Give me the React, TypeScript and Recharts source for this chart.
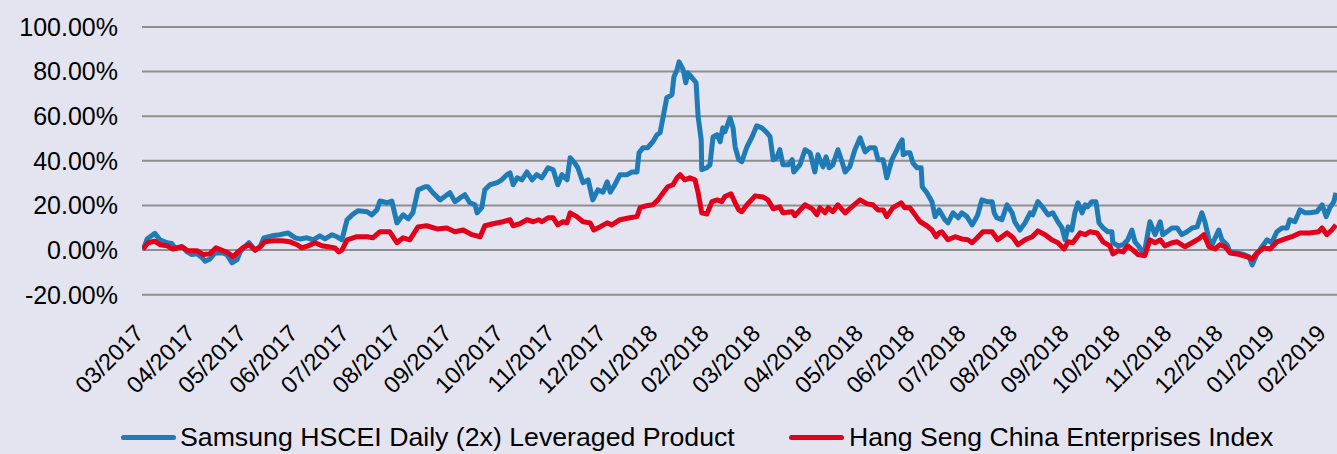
import React from 'react';
import { LineChart, Line, XAxis, YAxis, CartesianGrid } from 'recharts';

// month labels on the x axis; x values below are months since 03/2017
const monthLabels = [
  '03/2017', '04/2017', '05/2017', '06/2017', '07/2017', '08/2017', '09/2017', '10/2017',
  '11/2017', '12/2017', '01/2018', '02/2018', '03/2018', '04/2018', '05/2018', '06/2018',
  '07/2018', '08/2018', '09/2018', '10/2018', '11/2018', '12/2018', '01/2019', '02/2019',
];

const yTicks = [-20, 0, 20, 40, 60, 80, 100];

// Samsung HSCEI Daily (2x) Leveraged Product, cumulative return in %
const leveragedMonths = [
  0.02, 0.1, 0.25, 0.35, 0.49, 0.58, 0.64, 0.78, 0.88, 0.97, 1.07, 1.17, 1.23, 1.32, 1.42, 1.56,
  1.65, 1.75, 1.85, 1.91, 2.0, 2.08, 2.2, 2.3, 2.37, 2.53, 2.68, 2.84, 2.98, 3.07, 3.21, 3.33,
  3.46, 3.56, 3.7, 3.79, 3.89, 3.99, 4.09, 4.2, 4.38, 4.47, 4.57, 4.63, 4.77, 4.86, 4.96, 5.08,
  5.18, 5.27, 5.37, 5.51, 5.56, 5.66, 5.8, 5.89, 5.99, 6.09, 6.19, 6.28, 6.38, 6.48, 6.52, 6.61,
  6.67, 6.77, 6.91, 7.0, 7.1, 7.16, 7.22, 7.3, 7.39, 7.49, 7.59, 7.68, 7.78, 7.9, 8.0, 8.09,
  8.17, 8.27, 8.33, 8.42, 8.48, 8.58, 8.68, 8.77, 8.87, 8.97, 9.05, 9.11, 9.2, 9.3, 9.44, 9.53,
  9.63, 9.67, 9.75, 9.84, 9.94, 10.02, 10.08, 10.14, 10.21, 10.31, 10.35, 10.41, 10.45, 10.53, 10.58, 10.62,
  10.7, 10.78, 10.82, 10.88, 10.89, 10.99, 11.05, 11.11, 11.19, 11.25, 11.3, 11.34, 11.44, 11.5, 11.54, 11.61,
  11.67, 11.77, 11.87, 11.96, 12.06, 12.16, 12.22, 12.28, 12.35, 12.41, 12.47, 12.57, 12.65, 12.68, 12.8, 12.9,
  13.0, 13.09, 13.15, 13.25, 13.31, 13.37, 13.44, 13.54, 13.62, 13.68, 13.77, 13.87, 13.97, 14.07, 14.16, 14.26,
  14.32, 14.42, 14.49, 14.59, 14.69, 14.73, 14.79, 14.81, 14.88, 14.94, 15.0, 15.08, 15.16, 15.18, 15.27, 15.37,
  15.43, 15.51, 15.62, 15.68, 15.78, 15.88, 15.95, 16.05, 16.15, 16.21, 16.26, 16.34, 16.44, 16.54, 16.58, 16.63,
  16.73, 16.83, 16.93, 16.98, 17.08, 17.18, 17.28, 17.33, 17.43, 17.53, 17.63, 17.72, 17.82, 17.9, 17.96, 18.02,
  18.09, 18.15, 18.21, 18.29, 18.35, 18.4, 18.48, 18.56, 18.62, 18.7, 18.79, 18.87, 18.89, 18.99, 19.09, 19.18,
  19.26, 19.32, 19.4, 19.46, 19.51, 19.61, 19.71, 19.81, 19.86, 19.94, 20.04, 20.14, 20.23, 20.33, 20.43, 20.53,
  20.62, 20.68, 20.76, 20.82, 20.88, 20.95, 21.01, 21.11, 21.17, 21.3, 21.44, 21.54, 21.6, 21.69, 21.79, 21.89,
  21.98, 22.08, 22.18, 22.28, 22.33, 22.43, 22.53, 22.63, 22.72, 22.86, 22.96, 23.04, 23.11, 23.19, 23.23,
];
const leveragedValues = [
  0, 5, 7.5, 4.6, 3.3, 3, 1, 1.5, -0.8, -2, -1.7, -3.5, -5, -4, -1.3, -1.2,
  -2, -5.7, -4.3, -0.8, 1.5, 3.3, 0, 1.5, 5.5, 6.4, 6.9, 7.7, 5.5, 5, 5.5, 4.6,
  6.4, 5, 6.9, 6, 4.6, 13.6, 15.8, 17.6, 17.2, 15.8, 18, 22, 21.2, 22, 12.2, 15.8,
  14, 16.7, 27, 28.4, 28.4, 25.7, 22.5, 24, 25.7, 21.7, 23.4, 24.8, 21.2, 20.3, 16.7, 19,
  27, 29.3, 30.2, 31.5, 33.8, 34.6, 29.3, 32.4, 31.5, 35, 31.5, 33.8, 32.4, 36.9, 36, 29.3,
  33.8, 31.5, 41.4, 39, 36.9, 30.2, 31.5, 22.5, 27, 26, 30.6, 26, 29.3, 33.8, 33.8, 35,
  35, 43.6, 45.9, 45.9, 48.6, 51.7, 52.6, 59.8, 68.3, 69.6, 77.7, 80.8, 84.4, 80.8, 75, 79.5,
  77.3, 75, 59.8, 49.4, 36, 36.9, 38.2, 50.7, 51.7, 48.6, 54.8, 53, 59.3, 54.8, 46.3, 40.5,
  39.6, 46.3, 50.8, 55.7, 54.8, 52.6, 50.8, 40.5, 41.4, 45, 38.2, 38.2, 40.5, 35, 38.2, 45,
  43.6, 35, 42.7, 37.3, 41.8, 36.9, 38.2, 45, 39.6, 35, 37.3, 45, 50.3, 44, 45.9, 45.9,
  40.5, 40.5, 32.4, 40.5, 45, 47.2, 49.4, 42.7, 43.6, 43.6, 39, 36.9, 36.9, 28.4, 25.7, 21.7,
  15, 18, 13.6, 12.2, 16.7, 14.5, 16.7, 15, 11.3, 13.6, 15.8, 22.5, 21.7, 21.7, 16.7, 14.5,
  13.6, 20.3, 16.7, 12.7, 9, 12.2, 16.7, 15.8, 21.7, 19, 15.8, 16.7, 12.7, 9.9, 4.6, 10.4,
  9, 16.7, 21.2, 16.7, 20.3, 19.4, 21.7, 21.7, 12.2, 9.9, 8.2, 8.2, 3.3, 1.9, 2.4, 4.6,
  9, 3.7, 1.5, -0.8, 0, 12.7, 6.9, 12.7, 6.9, 8.2, 9.9, 9.9, 6.9, 8.2, 9.9, 10.4,
  16.7, 12.7, 4.6, 2.4, 5.5, 9, 4.6, 2.4, -0.8, -1.3, -2, -3, -6.6, -2, 1.5, 4.6,
  3.3, 8.2, 9.9, 9.9, 13.6, 12.7, 18, 16.7, 16.7, 17.2, 20.3, 15, 19, 21.7, 25.7,
];

// Hang Seng China Enterprises Index, cumulative return in %
const indexMonths = [
  0.02, 0.12, 0.25, 0.35, 0.49, 0.6, 0.78, 0.89, 1.07, 1.19, 1.32, 1.44, 1.58, 1.67, 1.77, 1.87,
  1.96, 2.08, 2.2, 2.3, 2.39, 2.55, 2.72, 2.88, 3.02, 3.11, 3.23, 3.37, 3.5, 3.62, 3.75, 3.83,
  3.89, 3.99, 4.18, 4.38, 4.49, 4.63, 4.82, 4.96, 5.08, 5.21, 5.37, 5.54, 5.74, 5.93, 6.09, 6.25,
  6.42, 6.58, 6.67, 6.83, 7.02, 7.16, 7.22, 7.35, 7.49, 7.61, 7.72, 7.78, 7.9, 8.0, 8.09, 8.19,
  8.27, 8.33, 8.46, 8.58, 8.72, 8.79, 8.91, 9.05, 9.14, 9.3, 9.49, 9.63, 9.69, 9.82, 9.94, 10.04,
  10.14, 10.23, 10.33, 10.41, 10.47, 10.56, 10.66, 10.76, 10.82, 10.89, 10.99, 11.09, 11.19, 11.28, 11.34, 11.46,
  11.54, 11.61, 11.67, 11.77, 11.93, 12.08, 12.18, 12.28, 12.41, 12.47, 12.65, 12.7, 12.9, 13.04, 13.13, 13.19,
  13.29, 13.35, 13.44, 13.54, 13.68, 13.81, 13.97, 14.11, 14.22, 14.32, 14.42, 14.49, 14.61, 14.77, 14.84, 14.94,
  15.04, 15.14, 15.27, 15.37, 15.45, 15.51, 15.56, 15.68, 15.82, 15.95, 16.07, 16.15, 16.25, 16.36, 16.54, 16.65,
  16.83, 16.95, 17.04, 17.18, 17.32, 17.43, 17.57, 17.7, 17.82, 17.94, 18.02, 18.11, 18.25, 18.35, 18.44, 18.58,
  18.7, 18.83, 18.89, 18.99, 19.09, 19.18, 19.28, 19.38, 19.51, 19.61, 19.71, 19.81, 19.9, 20.04, 20.14, 20.29,
  20.43, 20.56, 20.66, 20.76, 20.88, 20.97, 21.07, 21.17, 21.36, 21.5, 21.6, 21.69, 21.83, 21.95, 22.08, 22.24,
  22.37, 22.53, 22.72, 22.89, 22.96, 23.05, 23.15, 23.23,
];
const indexValues = [
  0.5, 3.3, 4, 2.4, 1.9, 0.5, 1.5, -0.3, -0.3, -2, -1.7, 1, -0.3, -1.2, -3, -0.8,
  1, 2.4, 0, 1.5, 3.7, 4.2, 4.2, 3.7, 2.4, 1, 1.9, 3.3, 1.9, 1.5, 1, -0.8,
  0, 4.6, 6, 6, 5.5, 8.2, 8.2, 3.3, 5.5, 4.6, 10.4, 10.9, 9.5, 9.9, 8.2, 9,
  6.9, 6, 10.9, 11.8, 12.7, 13.6, 10.9, 11.8, 13.6, 12.7, 13.6, 12.7, 14.5, 14.5, 11.3, 12.7,
  12.2, 16.7, 15, 12.7, 12.2, 9, 10.4, 12.2, 11.3, 13.6, 14.5, 15, 19, 19.9, 20.3, 22.5,
  25.7, 28.4, 29.3, 32.4, 33.8, 31.5, 32.4, 31.5, 25.7, 16.7, 16.2, 21.7, 22.5, 21.7, 24, 25.2,
  21.2, 18, 17.2, 20.3, 24.3, 23.8, 22.5, 18.5, 19.4, 16.7, 17.2, 15.4, 20.3, 18.5, 15.8, 19,
  16.7, 19, 17.2, 20.3, 16.7, 19.4, 22.5, 20.7, 20.3, 18, 18, 15, 19, 21.2, 19, 19,
  15.8, 12.7, 10.9, 9, 6, 7.7, 8.2, 4.6, 6, 5, 4.6, 3.3, 5.5, 8.2, 8.2, 4.6,
  7.7, 5.5, 2.4, 4.6, 6, 8.6, 6.9, 4.6, 3.3, 0.5, 3.7, 3.3, 7.7, 6.9, 8.2, 7.7,
  3.7, 1.9, -1.7, -0.3, -0.8, 1.9, 0, -2, -2.5, 4.6, 3.3, 4.6, 1.9, 3.3, 3.7, 1.5,
  3.3, 5, 6.9, 1.5, 0.5, 2.4, 1.5, -1.3, -2, -3, -4, -1.3, 1, 0.5, 3.7, 5,
  6, 7.7, 7.7, 8.2, 9.9, 6.9, 9, 11.3,
];

const leveragedData = leveragedMonths.map((m, i) => ({ m, v: leveragedValues[i] }));
const indexData = indexMonths.map((m, i) => ({ m, v: indexValues[i] }));
const monthTicks = monthLabels.map((_, i) => i);

const font = '"Liberation Sans", Arial, sans-serif';

const MonthTick = (props: any) => {
  const { x, y, payload } = props;
  const ax = x + 3;
  const ay = y + 38;
  return (
    <text
      x={ax}
      y={ay}
      textAnchor="end"
      transform={`rotate(-45 ${ax} ${ay})`}
      fontSize={23.5}
      fontFamily={font}
      fill="#000"
    >
      {monthLabels[payload.value]}
    </text>
  );
};

const App = () => {
  return (
    <div
      style={{
        position: 'absolute',
        left: 0,
        top: 0,
        width: 1337,
        height: 454,
        background: '#E4E4F0',
        fontFamily: font,
      }}
    >
      <LineChart width={1337} height={454} margin={{ top: 27, right: 0, bottom: 0, left: 0 }}>
        <CartesianGrid vertical={false} stroke="#8E8E8E" strokeWidth={2} />
        <XAxis
          type="number"
          dataKey="m"
          domain={[0, 23.25]}
          ticks={monthTicks}
          interval={0}
          allowDataOverflow
          axisLine={false}
          tickLine={false}
          tickSize={0}
          height={159.3}
          tick={<MonthTick />}
        />
        <YAxis
          type="number"
          domain={[-20, 100]}
          ticks={yTicks}
          interval={0}
          width={142}
          axisLine={false}
          tickLine={false}
          tickSize={0}
          tickMargin={24}
          tickFormatter={(v: number) => `${v.toFixed(2)}%`}
          tick={{ fontSize: 25, fill: '#000', fontFamily: font }}
        />
        <Line
          data={leveragedData}
          dataKey="v"
          type="linear"
          stroke="#1F7BB6"
          strokeWidth={5}
          strokeLinejoin="round"
          dot={false}
          isAnimationActive={false}
        />
        <Line
          data={indexData}
          dataKey="v"
          type="linear"
          stroke="#E2001A"
          strokeWidth={5}
          strokeLinejoin="round"
          dot={false}
          isAnimationActive={false}
        />
      </LineChart>
      <div style={{ position: 'absolute', left: 121, top: 422, display: 'flex', alignItems: 'center', fontSize: 26.7, color: '#000' }}>
        <span style={{ display: 'inline-block', width: 55, height: 5, borderRadius: 3, background: '#1F7BB6', marginRight: 4 }} />
        <span>Samsung HSCEI Daily (2x) Leveraged Product</span>
      </div>
      <div style={{ position: 'absolute', left: 789, top: 422, display: 'flex', alignItems: 'center', fontSize: 26.6, color: '#000' }}>
        <span style={{ display: 'inline-block', width: 55, height: 5, borderRadius: 3, background: '#E2001A', marginRight: 5 }} />
        <span>Hang Seng China Enterprises Index</span>
      </div>
    </div>
  );
};

export default App;
